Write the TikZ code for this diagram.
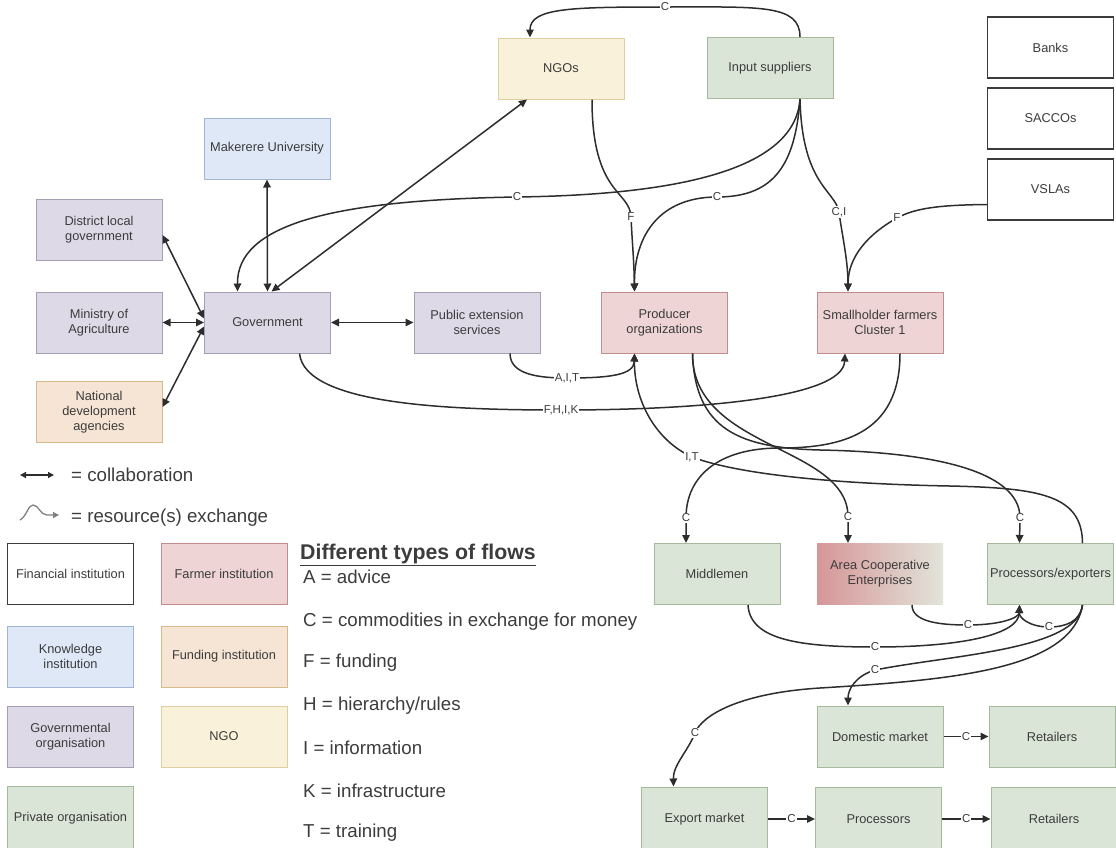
\documentclass[tikz,border=0pt]{standalone}
\usepackage{fontspec}
\setmainfont{Liberation Sans}
\usetikzlibrary{arrows.meta}

\definecolor{txt}{RGB}{60,60,60}
\definecolor{ln}{RGB}{45,45,45}
\definecolor{gofill}{RGB}{222,217,230}
\definecolor{godraw}{RGB}{165,158,180}
\definecolor{knfill}{RGB}{222,232,247}
\definecolor{kndraw}{RGB}{160,182,212}
\definecolor{fafill}{RGB}{238,212,212}
\definecolor{fadraw}{RGB}{195,140,140}
\definecolor{fufill}{RGB}{246,229,212}
\definecolor{fudraw}{RGB}{215,185,140}
\definecolor{ngfill}{RGB}{250,241,218}
\definecolor{ngdraw}{RGB}{222,206,160}
\definecolor{prfill}{RGB}{219,229,215}
\definecolor{prdraw}{RGB}{165,185,155}
\definecolor{findraw}{RGB}{60,60,60}
\definecolor{acl}{RGB}{214,150,152}
\definecolor{acr}{RGB}{226,228,218}

\tikzset{
  box/.style={minimum width=126pt, minimum height=61pt, inner sep=2pt, align=center,
    text=txt, font=\fontsize{12.8}{14.8}\selectfont, line width=1pt},
  govbox/.style={box, fill=gofill, draw=godraw},
  knowbox/.style={box, fill=knfill, draw=kndraw},
  farmbox/.style={box, fill=fafill, draw=fadraw},
  fundbox/.style={box, fill=fufill, draw=fudraw},
  ngobox/.style={box, fill=ngfill, draw=ngdraw},
  privbox/.style={box, fill=prfill, draw=prdraw},
  finbox/.style={box, fill=white, draw=findraw, line width=1.5pt},
  tip/.tip={Triangle[length=8pt,width=7.5pt]},
  flow/.style={draw=ln, line width=1.5pt, -tip},
  collab/.style={draw=ln, line width=1.5pt, tip-tip},
  lbl/.style={fill=white, inner sep=1pt, text=txt, font=\fontsize{11.5}{12}\selectfont},
  legendtext/.style={anchor=west, text=txt, font=\fontsize{18.7}{20}\selectfont, inner sep=0pt},
}

\begin{document}
\begin{tikzpicture}[x=1pt, y=-1pt]
\useasboundingbox (0,0) rectangle (1116,847);

% ---- actors ----
\node[ngobox]  (ngo)    at (561,68.5)   {NGOs};
\node[privbox] (inp)    at (770,68)     {Input suppliers};
\node[finbox]  (banks)  at (1050.5,47.5) {Banks};
\node[finbox]  (saccos) at (1050.5,118.5) {SACCOs};
\node[finbox]  (vslas)  at (1050.5,189.5) {VSLAs};
\node[knowbox] (mak)    at (267,148.5)  {Makerere University};
\node[govbox]  (dlg)    at (99,230)     {District local\\government};
\node[govbox]  (moa)    at (99,322.5)   {Ministry of\\Agriculture};
\node[fundbox] (nda)    at (99,412)     {National\\development\\agencies};
\node[govbox]  (gov)    at (267.5,322.5) {Government};
\node[govbox]  (pes)    at (477,322.5)  {Public extension\\services};
\node[farmbox] (po)     at (664.5,322.5) {Producer\\organizations};
\node[farmbox] (sf)     at (880,322.5)  {Smallholder farmers\\Cluster 1};
\node[privbox] (mid)    at (717,574)    {Middlemen};
\node[box, left color=acl, right color=acr, draw=none] (ace) at (880,574) {Area Cooperative\\Enterprises};
\node[privbox] (pex)    at (1050.5,574) {Processors/exporters};
\node[privbox] (dom)    at (880,736.5)  {Domestic market};
\node[privbox] (ret1)   at (1052,736.5) {Retailers};
\node[privbox, minimum height=64pt] (exp)  at (704.5,819) {Export market};
\node[privbox, minimum height=64pt] (proc) at (878.5,819) {Processors};
\node[privbox, minimum height=64pt] (ret2) at (1054,819)  {Retailers};

% ---- collaboration links ----
\draw[collab] (mak.south) -- (gov.north);
\draw[collab] ([xshift=4]gov.north) -- ([xshift=-34]ngo.south);
\draw[collab] ([yshift=-5]dlg.east) -- ([yshift=4]gov.west);
\draw[collab] (moa.east) -- (gov.west);
\draw[collab] ([yshift=5]nda.east) -- ([yshift=-4]gov.west);
\draw[collab] (gov.east) -- (pes.west);

% ---- resource flows ----
\draw[flow] ([xshift=30]inp.north) .. controls (800,4) and (760,7) .. (665,7) node[lbl]{C}
  .. controls (570,7) and (530,8) .. ([xshift=-31]ngo.north);
\draw[flow] ([xshift=31]ngo.south) .. controls (592,195) and (630,190) .. (631,217) node[lbl]{F}
  .. controls (632,240) and (634,260) .. ([xshift=-30]po.north);
\draw[flow] ([xshift=30]inp.south) .. controls (795,175) and (660,195) .. (517,197) node[lbl]{C}
  .. controls (330,200) and (237,225) .. ([xshift=-30]gov.north);
\draw[flow] ([xshift=30]inp.south) .. controls (795,170) and (770,197) .. (717,197) node[lbl]{C}
  .. controls (660,197) and (634,235) .. ([xshift=-30]po.north);
\draw[flow] ([xshift=30]inp.south) .. controls (802,185) and (835,190) .. (839,212) node[lbl]{C,I}
  .. controls (842,235) and (848,260) .. ([xshift=-32]sf.north);
\draw[flow] ([yshift=-15]vslas.west) .. controls (940,205) and (915,208) .. (897,218) node[lbl]{F}
  .. controls (879,228) and (848,250) .. ([xshift=-32]sf.north);
\draw[flow] ([xshift=33]pes.south) .. controls (510,375) and (540,378) .. (567,378) node[lbl]{A,I,T}
  .. controls (610,378) and (634,375) .. ([xshift=-30]po.south);
\draw[flow] ([xshift=32]gov.south) .. controls (305,405) and (450,410) .. (561,410) node[lbl]{F,H,I,K}
  .. controls (700,410) and (843,398) .. ([xshift=-35]sf.south);
\draw[flow] ([xshift=32]pex.north) .. controls (1082,495) and (1040,488) .. (950,486)
  .. controls (840,484) and (740,475) .. (692,457) node[lbl]{I,T}
  .. controls (655,440) and (634,400) .. ([xshift=-30]po.south);
\draw[flow] ([xshift=28]po.south) .. controls (692,450) and (848,445) .. (848,517) node[lbl]{C}
  -- ([xshift=-32]ace.north);
\draw[flow] ([xshift=28]po.south) .. controls (695,430) and (740,448) .. (820,450)
  .. controls (930,452) and (1020,470) .. (1020,518) node[lbl]{C} -- ([xshift=-31]pex.north);
\draw[flow] ([xshift=20]sf.south) .. controls (900,435) and (840,448) .. (780,448)
  .. controls (720,448) and (686,475) .. (686,518) node[lbl]{C} -- ([xshift=-31]mid.north);
\draw[flow] ([xshift=31]mid.south) .. controls (750,640) and (800,647) .. (875,647) node[lbl]{C}
  .. controls (960,647) and (1019,635) .. ([xshift=-31]pex.south);
\draw[flow] ([xshift=32]ace.south) .. controls (912,622) and (940,625) .. (968,625) node[lbl]{C}
  .. controls (1000,625) and (1019,618) .. ([xshift=-31]pex.south);
\draw[flow] ([xshift=32]pex.south) .. controls (1080,622) and (1065,627) .. (1049,627) node[lbl]{C}
  .. controls (1030,627) and (1019,618) .. ([xshift=-31]pex.south);
\draw[flow] ([xshift=32]pex.south) .. controls (1078,650) and (950,655) .. (875,670) node[lbl]{C}
  .. controls (855,676) and (848,690) .. ([xshift=-32]dom.north);
\draw[flow] ([xshift=32]pex.south) .. controls (1072,670) and (950,680) .. (820,688)
  .. controls (740,693) and (702,715) .. (695,733) node[lbl]{C}
  .. controls (688,751) and (673,765) .. ([xshift=-31]exp.north);
\draw[flow] (dom.east) -- node[lbl]{C} (ret1.west);
\draw[flow] (exp.east) -- node[lbl]{C} (proc.west);
\draw[flow] (proc.east) -- node[lbl]{C} (ret2.west);

% ---- legend: connector types ----
\coordinate (ca) at (20,475);
\coordinate (cb) at (54,475);
\draw[draw=ln, line width=1.3pt, {Triangle[length=6pt,width=6pt]}-{Triangle[length=6pt,width=6pt]}] (ca) -- (cb);
\node[legendtext] (lcol) at (71,475) {= collaboration};
\coordinate (wa) at (20,520);
\coordinate (wb) at (59,515);
\draw[draw=gray, line width=1.3pt, -{Triangle[length=6pt,width=6pt]}] (wa) .. controls (27,516) and (28,505) .. (33,505)
  .. controls (39,505) and (40,515) .. (47,515) -- (wb);
\node[legendtext] (lres) at (71,518) {= resource(s) exchange};

% ---- legend: actor types ----
\node[finbox]  (lfin)  at (70.5,574)   {Financial institution};
\node[farmbox] (lfarm) at (224,574)    {Farmer institution};
\node[knowbox] (lknow) at (70.5,656.5) {Knowledge\\institution};
\node[fundbox] (lfund) at (224,656.5)  {Funding institution};
\node[govbox]  (lgov)  at (70.5,736.5) {Governmental\\organisation};
\node[ngobox]  (lngo)  at (224,736.5)  {NGO};
\node[privbox, minimum height=64pt] (lpriv) at (70.5,818) {Private organisation};

% ---- legend: flow types ----
\node[legendtext, font=\bfseries\fontsize{21.3}{23}\selectfont] (fh) at (300,555) {\underline{Different types of flows}};
\node[legendtext] (fa) at (303,577) {A = advice};
\node[legendtext] (fc) at (303,622) {C = commodities in exchange for money};
\node[legendtext] (ff) at (303,663) {F = funding};
\node[legendtext] (fhh) at (303,706) {H = hierarchy/rules};
\node[legendtext] (fi) at (303,748) {I = information};
\node[legendtext] (fk) at (303,791) {K = infrastructure};
\node[legendtext] (ft) at (303,833) {T = training};
\end{tikzpicture}
\end{document}
